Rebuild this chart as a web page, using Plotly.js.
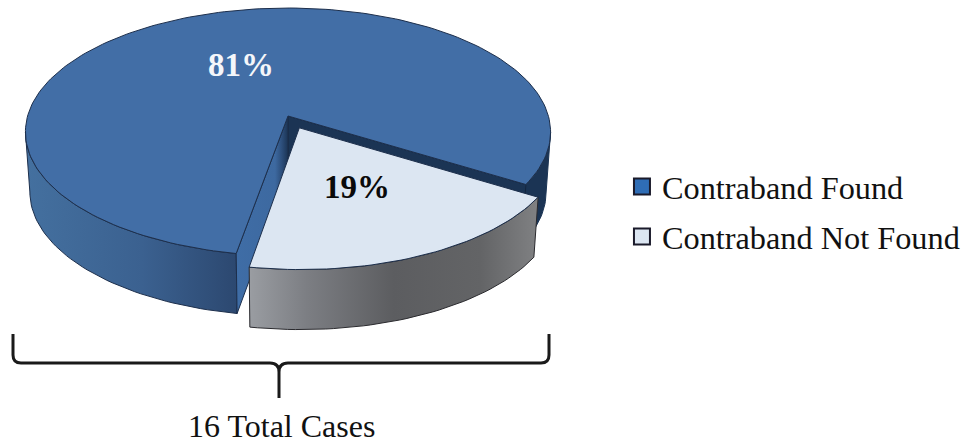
<!DOCTYPE html>
<html>
<head>
<meta charset="utf-8">
<script src="https://cdn.plot.ly/plotly-3.0.1.min.js"></script>
<style>html,body{margin:0;padding:0;background:#fff}#chart{width:961px;height:443px}</style>
</head>
<body>
<div id="chart"></div>
<script>
const categories = ["Contraband Found", "Contraband Not Found"];
const percentages = [81, 19];
const totalLabel = "16 Total Cases";
const topColors = ["#426ea6", "#dce6f2"];

// 3D disc projection (disc coords -> page axes)
const cx = 288, cy = 116, R = 260.4, S = 121.9, K = 0.129, H = 60, SHRINK = 0.983;
const FIRST_ANGLE = -10, EXPLODE = 0.105, SERIF = "Liberation Serif, Times New Roman, serif";

const sliceSpan = percentages[1] / 100 * 360;
const a0 = FIRST_ANGLE, a1 = FIRST_ANGLE + sliceSpan, mid = (a0 + a1) / 2;
const rad = d => d * Math.PI / 180;
const off = {u: EXPLODE * Math.sin(rad(mid)), v: EXPLODE * Math.cos(rad(mid)), r: 0.988};
const none = {u: 0, v: 0, r: 1};
const leftEdge = 360 - Math.acos(K) * 180 / Math.PI, rightEdge = Math.acos(K) * 180 / Math.PI;

function proj(u, v, lower) {
  const w = 1 - K * v;
  let x = cx + R * u / w, y = cy + S * v / w;
  if (lower) { x = cx + (x - cx) * SHRINK; y += H; }
  return [x, y];
}
function rim(aStart, aEnd, o, lower) {
  const pts = [], n = Math.max(2, Math.ceil(Math.abs(aEnd - aStart) / 1.5));
  for (let i = 0; i <= n; i++) {
    const t = rad(aStart + (aEnd - aStart) * i / n);
    pts.push(proj(o.u + o.r * Math.sin(t), o.v + o.r * Math.cos(t), lower));
  }
  return pts;
}
const centre = (o, lower) => proj(o.u, o.v, lower);
function poly(pts, style) {
  const c = pts.concat([pts[0]]);
  return Object.assign({
    type: "scatter", mode: "lines", fill: "toself", showlegend: false, hoverinfo: "skip",
    x: c.map(p => p[0]), y: c.map(p => p[1]),
    line: {color: "#1d2f4c", width: 1}
  }, style);
}
function wall(aStart, aEnd, o, style) {
  return poly(rim(aStart, aEnd, o, false).concat(rim(aStart, aEnd, o, true).reverse()), style);
}
function face(a, o) {
  return [centre(o, false), rim(a, a, o, false)[0], rim(a, a, o, true)[0], centre(o, true)];
}
const grad = stops => ({type: "horizontal", colorscale: stops});

const traces = [
  // Found slice: walls
  wall(leftEdge, 360 + a0, none, {fillgradient: grad([[0, "#44709f"], [0.55, "#3b6190"], [1, "#2c4870"]]), fillcolor: "#3b6190"}),
  wall(a1, rightEdge, none, {fillcolor: "#1b3454", line: {color: "#1b3454", width: 1}}),
  poly(face(a1, none), {fillcolor: "#1b3454", line: {color: "#14263f", width: 1}}),
  poly(face(a0, none), {fillgradient: grad([[0, "#3f6da6"], [0.75, "#3d69a0"], [0.9, "#2a4a75"], [1, "#1b3454"]]), fillcolor: "#3d69a0"}),
  // Found slice: top
  poly([centre(none, false)].concat(rim(a1, 360 + a0, none, false)), {fillcolor: topColors[0]}),
  // Not Found slice: wall and top
  wall(a0, a1, off, {fillgradient: grad([[0, "#9a9da2"], [0.2, "#7c7e83"], [0.5, "#5c5d60"], [0.8, "#636466"], [1, "#808183"]]), fillcolor: "#666", line: {color: "#2a2a2e", width: 1}}),
  poly([centre(off, false)].concat(rim(a0, a1, off, false)), {fillcolor: topColors[1]}),
  // legend entries
  ...categories.map((name, i) => ({
    type: "scatter", mode: "markers", name, legendgroup: name,
    x: [null], y: [null],
    marker: {symbol: "square", size: 16, color: i === 0 ? "#2f6db5" : topColors[1], line: {color: "#1a1a2a", width: 2}}
  }))
];

const layout = {
  width: 961, height: 443, margin: {l: 0, r: 0, t: 0, b: 0, autoexpand: false},
  paper_bgcolor: "#fff", plot_bgcolor: "#fff",
  xaxis: {range: [0, 961], visible: false, fixedrange: true},
  yaxis: {range: [443, 0], visible: false, fixedrange: true},
  showlegend: true,
  legend: {
    x: 0.6472, y: 0.641, xanchor: "left", yanchor: "top", bgcolor: "rgba(0,0,0,0)",
    font: {family: SERIF, size: 32.3, color: "#111"}, tracegroupgap: 5, itemclick: false, itemdoubleclick: false
  },
  shapes: [{
    type: "path", line: {color: "#1a1a1a", width: 3},
    path: "M 13 334 L 13 355 Q 13 363 21 363 L 270 363 Q 279 363 279 372 L 279 398 L 279 372 Q 279 363 288 363 L 541 363 Q 549 363 549 355 L 549 334"
  }],
  annotations: [
    {x: 240.5, y: 65, text: "<b>" + percentages[0] + "%</b>", showarrow: false, font: {family: SERIF, size: 33, color: "#f4f6fa"}},
    {x: 357, y: 187, text: "<b>" + percentages[1] + "%</b>", showarrow: false, font: {family: SERIF, size: 33, color: "#0a0a0a"}},
    {x: 281.5, y: 426, text: totalLabel, showarrow: false, font: {family: SERIF, size: 32, color: "#111"}}
  ]
};
Plotly.newPlot("chart", traces, layout, {staticPlot: true, displayModeBar: false});
</script>
</body>
</html>
